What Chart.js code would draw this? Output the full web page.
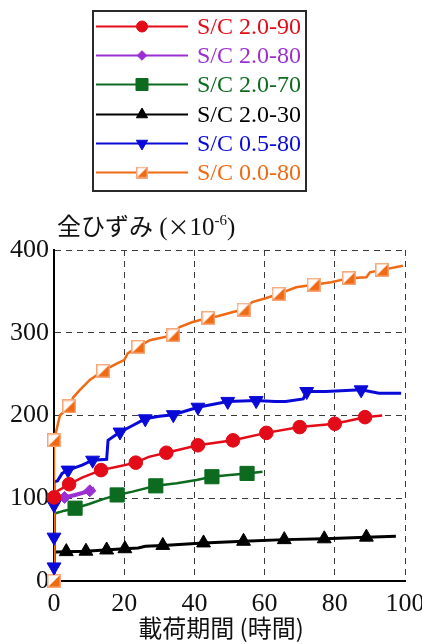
<!DOCTYPE html>
<html>
<head>
<meta charset="utf-8">
<script src="https://cdn.jsdelivr.net/npm/chart.js@4/dist/chart.umd.min.js"></script>
<style>
  html, body { margin: 0; padding: 0; background: #fff; }
  #wrap { position: relative; width: 422px; height: 644px; }
  #grafico { position: absolute; left: 0; top: 0; }
  #legenda {
    position: absolute; left: 92px; top: 10px;
    width: 211px; height: 178px;
    border: 2px solid #2a2a2a; background: #fff;
  }
  .linhaLeg { height: 29.2px; display: flex; align-items: center; }
  .linhaLeg canvas { display: block; }
  .linhaLeg span { font: 24px "Liberation Serif", serif; margin-left: 7px; white-space: nowrap; }
</style>
</head>
<body>
<div id="wrap">
  <canvas id="grafico" width="422" height="644"></canvas>
  <div id="legenda"></div>
</div>
<script>
// cores
const vermelho = '#e20b17'
const roxo = '#9b2fd4'
const verde = '#0c6b1f'
const preto = '#000000'
const azul = '#0a0ad8'
const laranja = '#f06a14'

// eixos
const ticksX = [0, 20, 40, 60, 80, 100]
const ticksY = [0, 100, 200, 300, 400]

// S/C 2.0-90  [tempo (h), deformacao]
const linha2090 = [[0,0],[0,100],[1,109],[2.3,112],[4.3,117],[8,125],[13.4,134],[18,138],[23.3,143],[27,150],[32,155],[41,164],[51,170],[60.5,179],[70,186],[80,190],[88.6,198],[93.5,200]]
const marcas2090 = [[0,101],[4.3,117],[13.4,134],[23.3,143],[32,155],[41,164],[51,170],[60.5,179],[70,186],[80,190],[88.6,198]]

// S/C 2.0-80
const linha2080 = [[0,0],[0,96],[1,98],[3,101],[6,104],[10.2,109],[11.5,112]]
const marcas2080 = [[3,101],[10.2,109]]

// S/C 2.0-70
const linha2070 = [[0,0],[0,82],[0.5,82],[3,85],[6,88],[10,93],[14,99],[18,104],[22.4,108],[29,115],[35,118],[40.6,122],[45,126],[50,128],[55,130],[59.4,132]]
const marcas2070 = [[6,88],[18,104],[29,115],[45,126],[55,130]]

// S/C 2.0-30
const linha2030 = [[0,0],[0,35],[0.5,35],[9,36],[20,39],[24,40],[26,42],[31,43],[42.6,46],[54,48],[65.6,50],[77,51],[89,53],[97.4,54]]
const marcas2030 = [[3.5,35.5],[9.1,36],[15,37.5],[20.2,39],[31,43],[42.6,46],[54,48],[65.6,50],[77,51],[89,53]]

// S/C 0.5-80
const linha0580 = [[0,0],[0,120],[1,121],[2.3,130],[4,134],[8,140],[11,146],[15,147],[15.4,170],[18.8,180],[22,187],[26,196],[30,199],[34,201],[41,210],[49.5,217],[57.6,218],[63,217],[66,217],[71,220],[72,229],[77.5,229],[87.5,231],[92.6,227],[98.9,227]]
const marcas0580 = [[0,17],[0,53],[0,92],[4,134],[11,146],[18.8,180],[26,196],[34,201],[41,210],[49.5,217],[57.6,218],[72,229],[87.5,231]]

// S/C 0.0-80
const linha0080 = [[0,0],[0,170],[0.9,186],[1.7,200],[4.3,211],[5.5,222],[7.4,231],[10.2,243],[14,254],[18,263],[20,267],[21,275],[24,283],[27.3,291],[34,297],[35.8,307],[39.5,313],[44,318],[46.6,320],[51,325],[54,328],[56.5,337],[60.5,342],[64,347],[69,355],[74,358],[79,361],[84,366],[89,367],[90,373],[93.5,376],[99.4,381]]
const marcas0080 = [[0,0],[0,170],[4.3,211],[14,254],[24,283],[34,297],[44,318],[54,328],[64,347],[74,358],[84,366],[93.5,376]]

const fonteSerif = '"Liberation Serif", serif'
const fonteCJK = '"Noto Sans CJK JP", sans-serif'

// quadrado meio cheio da serie 0.0-80
const quadradoLaranja = (tam) => {
    const cv = document.createElement('canvas')
    cv.width = tam
    cv.height = tam
    const c = cv.getContext('2d')
    c.fillStyle = '#fff'
    c.fillRect(0, 0, tam, tam)
    c.fillStyle = laranja
    c.beginPath()
    c.moveTo(tam - 1, 1)
    c.lineTo(tam - 1, tam - 1)
    c.lineTo(1, tam - 1)
    c.closePath()
    c.fill()
    c.strokeStyle = '#f7a77a'
    c.lineWidth = 1.5
    c.strokeRect(0.75, 0.75, tam - 1.5, tam - 1.5)
    return cv
}

const series = [
    { nome: 'S/C 2.0-90', linha: linha2090, marcas: marcas2090, cor: vermelho, estilo: 'circle', raio: 6.8, raioLeg: 5.5, rot: 0, larg: 2.5 },
    { nome: 'S/C 2.0-80', linha: linha2080, marcas: marcas2080, cor: roxo, estilo: 'rectRot', raio: 6, raioLeg: 4.8, rot: 0, larg: 4 },
    { nome: 'S/C 2.0-70', linha: linha2070, marcas: marcas2070, cor: verde, estilo: 'rect', raio: 10, raioLeg: 8.5, rot: 0, larg: 2.5 },
    { nome: 'S/C 2.0-30', linha: linha2030, marcas: marcas2030, cor: preto, estilo: 'triangle', raio: 8, raioLeg: 6.5, rot: 0, larg: 3 },
    { nome: 'S/C 0.5-80', linha: linha0580, marcas: marcas0580, cor: azul, estilo: 'triangle', raio: 8, raioLeg: 6.5, rot: 180, larg: 3 },
    { nome: 'S/C 0.0-80', linha: linha0080, marcas: marcas0080, cor: laranja, estilo: quadradoLaranja(14), raio: 7, raioLeg: 6, rot: 0, larg: 2.5 }
]

const paraXY = (lista) => lista.map(p => ({ x: p[0], y: p[1] }))

var datasets = []
series.forEach((s, i) => {
    datasets.push({
        label: s.nome,
        data: paraXY(s.linha),
        showLine: true,
        borderColor: s.cor,
        borderWidth: s.larg,
        pointRadius: 0,
        tension: 0,
        order: s.cor == laranja ? 1 : 2
    })
    datasets.push({
        label: s.nome + ' marcas',
        data: paraXY(s.marcas),
        showLine: false,
        pointStyle: s.estilo,
        pointRadius: s.raio,
        pointRotation: s.rot,
        backgroundColor: s.cor,
        borderColor: s.cor,
        borderWidth: 1,
        clip: false,
        order: 0
    })
})

// titulos dos eixos desenhados fora da area do grafico
const titulosEixos = {
    id: 'titulosEixos',
    afterDraw(chart) {
        const c = chart.ctx
        const area = chart.chartArea
        c.save()
        c.fillStyle = '#111'
        c.textBaseline = 'alphabetic'
        c.textAlign = 'left'

        var x = area.left + 3
        const base = 235
        const partes = [
            ['全ひずみ', '24px ' + fonteCJK, 0],
            [' (', '25px ' + fonteSerif, 0],
            ['×', '22px ' + fonteCJK, 0],
            ['10', '25px ' + fonteSerif, 0],
            ['-6', '15px ' + fonteSerif, -10],
            [')', '25px ' + fonteSerif, 0]
        ]
        partes.forEach(p => {
            c.font = p[1]
            c.fillText(p[0], x, base + p[2])
            x += c.measureText(p[0]).width
        })

        c.textAlign = 'center'
        c.font = '24px ' + fonteCJK
        c.fillText('載荷期間 (時間)', 221, 637)
        c.restore()
    }
}

const ctx = document.getElementById('grafico')

const chart = new Chart(ctx, {
    type: 'scatter',
    data: { datasets: datasets },
    options: {
        responsive: false,
        animation: false,
        events: [],
        layout: { padding: { top: 250, right: 17, left: 0, bottom: 0 } },
        plugins: {
            legend: { display: false },
            tooltip: { enabled: false }
        },
        scales: {
            x: {
                type: 'linear',
                min: 0,
                max: 100,
                afterBuildTicks: (eixo) => { eixo.ticks = ticksX.map(v => ({ value: v })) },
                afterFit: (eixo) => {
                    eixo.height = 63
                    eixo.paddingLeft = 0
                    eixo.paddingRight = 0
                },
                ticks: { color: '#111', padding: 8, font: { family: fonteSerif, size: 26 } },
                grid: { color: '#3a3a3a', lineWidth: 1, drawTicks: false },
                border: { display: true, color: '#000', width: 2, dash: [6, 5] }
            },
            y: {
                min: 0,
                max: 400,
                afterBuildTicks: (eixo) => { eixo.ticks = ticksY.map(v => ({ value: v })) },
                afterFit: (eixo) => { eixo.width = 54 },
                ticks: { color: '#111', padding: 5, font: { family: fonteSerif, size: 26 } },
                grid: { color: '#3a3a3a', lineWidth: 1, drawTicks: false },
                border: { display: true, color: '#000', width: 2, dash: [6, 5] }
            }
        }
    },
    plugins: [titulosEixos]
})

// legenda em html, com linha e marcador de cada serie
const montarLegenda = () => {
    const caixa = document.getElementById('legenda')
    series.forEach(s => {
        const linha = document.createElement('div')
        linha.className = 'linhaLeg'

        const cv = document.createElement('canvas')
        cv.width = 96
        cv.height = 29
        const c = cv.getContext('2d')
        c.strokeStyle = s.cor
        c.lineWidth = 2.2
        c.beginPath()
        c.moveTo(2, 14.5)
        c.lineTo(94, 14.5)
        c.stroke()
        c.fillStyle = s.cor
        c.lineWidth = 1
        if (typeof s.estilo == 'string') {
            Chart.helpers.drawPoint(c, { pointStyle: s.estilo, radius: s.raioLeg, rotation: s.rot, borderWidth: 1 }, 48, 14.5)
        } else {
            const img = quadradoLaranja(12)
            c.drawImage(img, 42, 8.5)
        }

        const texto = document.createElement('span')
        texto.textContent = s.nome
        texto.style.color = s.cor

        linha.appendChild(cv)
        linha.appendChild(texto)
        caixa.appendChild(linha)
    })
}

montarLegenda()
</script>
</body>
</html>
